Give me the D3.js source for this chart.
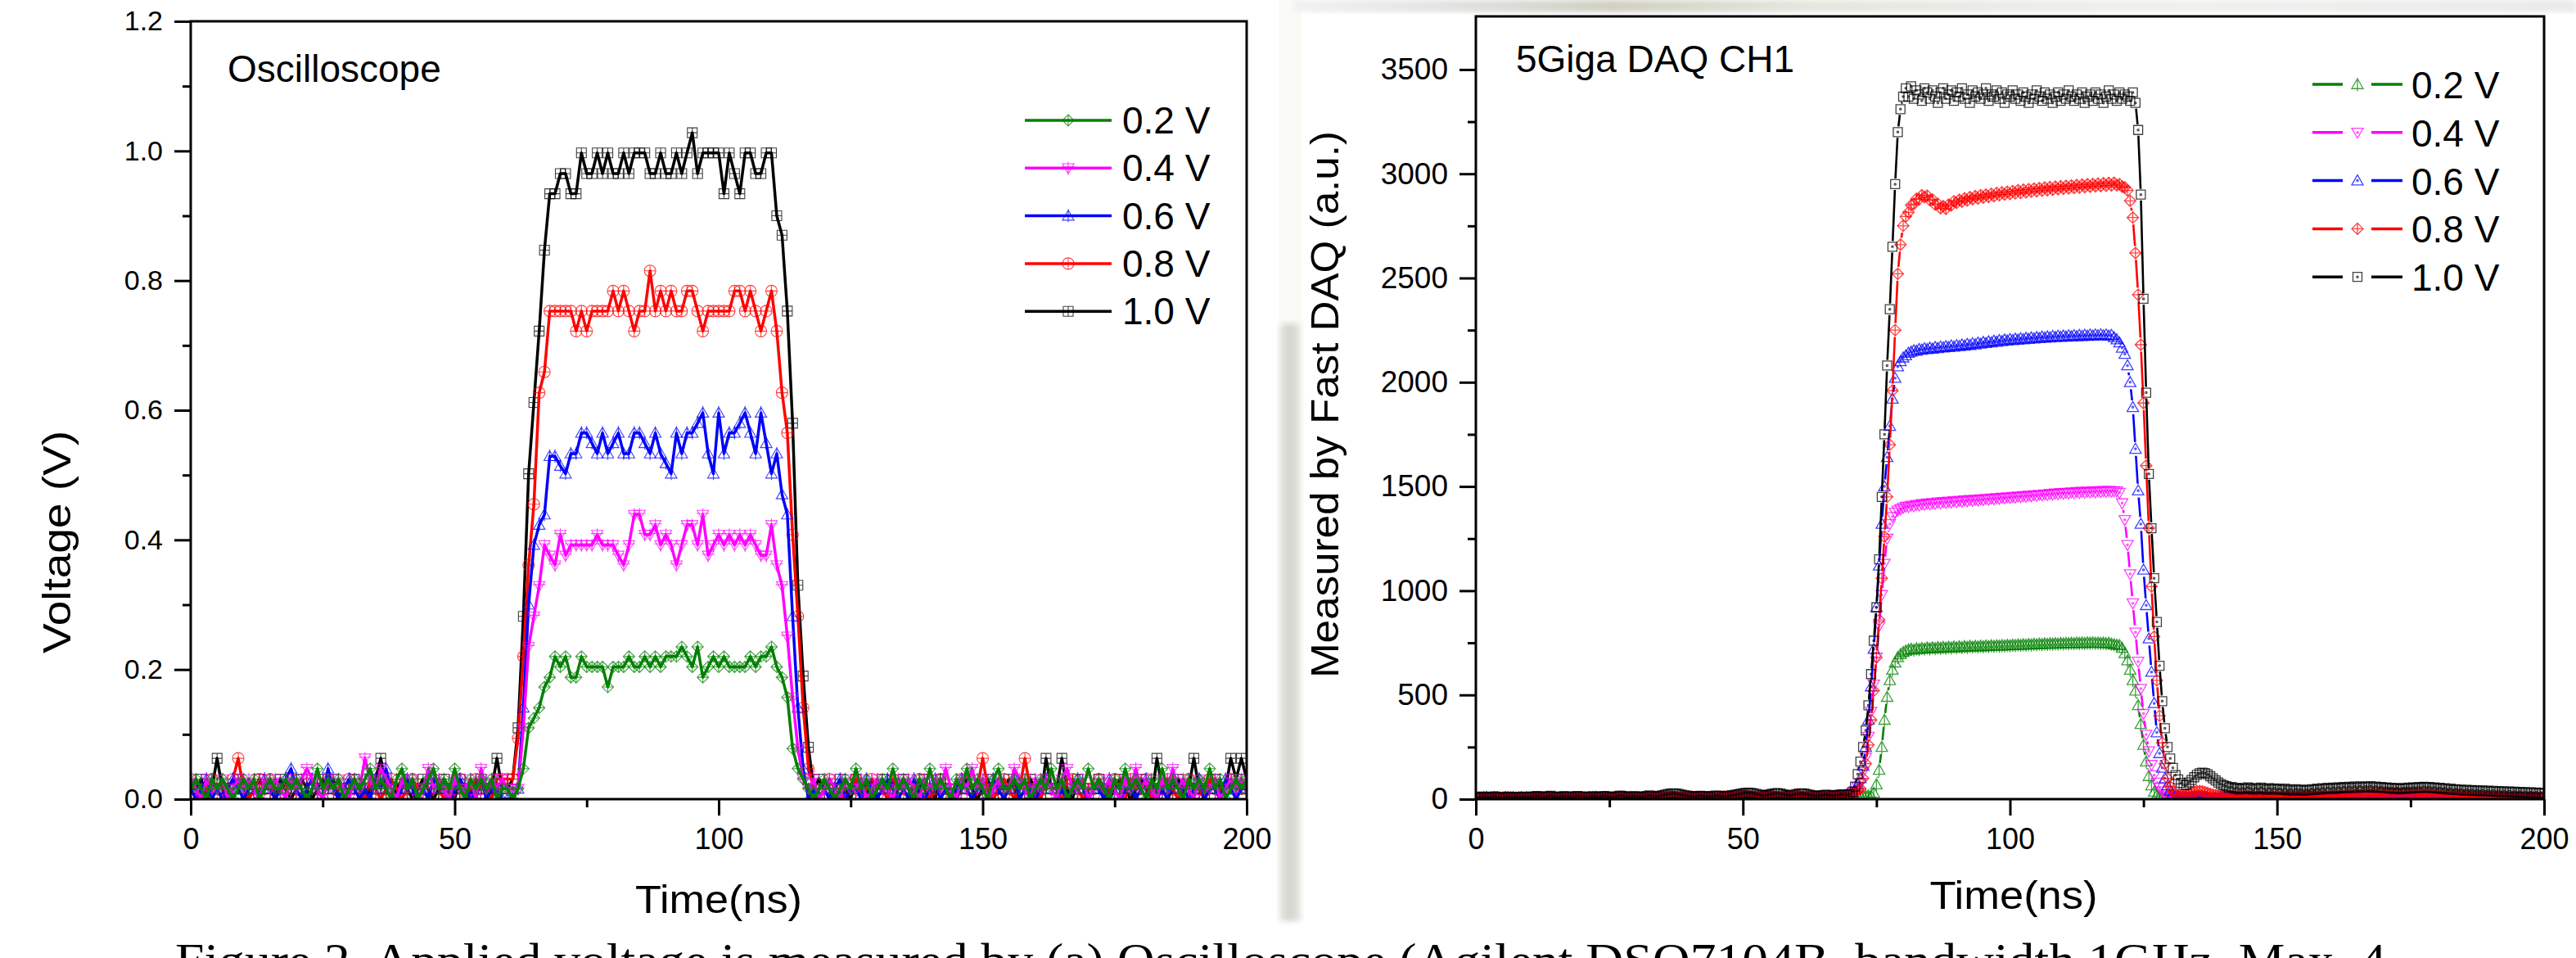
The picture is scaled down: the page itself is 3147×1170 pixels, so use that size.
<!DOCTYPE html>
<html lang="en">
  <head>
    <meta charset="utf-8" />
    <script src="https://d3js.org/d3.v7.min.js"></script>
    <style>
      body { margin: 0; background: #fff; }
      svg text { font-family: 'Liberation Sans', Arial, sans-serif; }
    </style>
  </head>
  <body>
    <svg id="fig" width="3147" height="1170"></svg>
    <script>
      // ---- data ----
      const legendLabels = ['0.2 V', '0.4 V', '0.6 V', '0.8 V', '1.0 V'];
      const timeTicks = [0, 50, 100, 150, 200];
      const timeMinor = [25, 75, 125, 175];
      const voltTicks = [0, 0.2, 0.4, 0.6, 0.8, 1.0, 1.2];
      const voltMinor = [0.1, 0.3, 0.5, 0.7, 0.9, 1.1];
      const daqTicks = [0, 500, 1000, 1500, 2000, 2500, 3000, 3500];
      const daqMinor = [250, 750, 1250, 1750, 2250, 2750, 3250];

      const oscStep = 1;   // ns between oscilloscope samples
      const daqStep = 0.5; // ns between DAQ samples

      // oscilloscope traces (mV), t = 0..200 ns
      const osc02 = [
        16,31,16,0,31,16,31,16,0,16,31,16,31,0,16,31,16,16,31,16,
        31,16,0,16,47,16,31,16,31,0,16,31,16,31,47,16,31,16,0,31,
        47,16,31,0,16,31,47,16,31,16,47,16,0,31,16,31,16,31,0,16,
        16,0,16,47,110,125,141,173,188,220,204,220,188,188,220,204,204,204,204,173,
        204,204,204,220,204,204,220,204,220,204,220,220,220,235,220,204,235,188,204,220,
        204,220,204,204,204,204,220,204,220,220,235,204,188,157,78,47,31,16,0,16,
        31,16,0,16,31,16,47,16,31,0,16,31,16,47,16,31,16,0,31,16,
        47,16,31,16,0,31,16,47,16,31,16,0,31,47,16,16,31,16,31,0,
        16,31,16,47,16,31,0,16,31,16,47,16,31,16,0,31,16,47,16,31,
        16,0,31,16,47,16,31,16,0,31,16,31,16,47,16,31,0,16,31,16,
        31
      ];
      const osc04 = [
        31,16,0,31,16,16,31,0,16,31,16,31,16,0,31,16,31,16,0,31,
        16,31,47,31,16,0,31,16,31,16,0,31,16,63,31,16,47,31,16,0,
        31,16,31,0,16,47,16,31,16,0,31,16,16,31,0,47,16,31,16,31,
        16,16,16,110,235,282,329,392,376,361,408,376,392,392,392,392,392,408,392,392,
        392,376,361,392,439,439,408,408,423,392,408,392,361,392,423,423,392,439,376,392,
        408,392,408,392,408,392,408,392,376,376,423,361,329,251,157,78,31,16,31,0,
        16,31,16,0,31,16,16,31,0,16,31,16,16,0,31,16,31,16,0,31,
        16,31,16,47,16,0,31,16,47,16,31,0,16,31,16,16,47,31,16,0,
        31,16,31,16,0,31,47,16,16,31,0,16,31,16,31,16,0,31,16,47,
        16,31,16,0,31,16,47,16,31,16,0,31,16,16,31,0,16,31,16,31,
        16
      ];
      const osc06 = [
        16,0,16,31,0,16,0,16,31,16,0,16,16,0,31,16,0,16,31,47,
        16,0,16,31,16,0,47,16,0,16,31,16,0,16,0,31,16,47,16,0,
        16,31,16,0,16,0,31,16,16,0,16,31,16,0,16,31,0,16,16,0,
        0,0,16,141,300,392,423,439,529,529,514,502,533,533,565,565,549,533,565,533,
        549,565,533,533,565,565,549,533,565,533,518,502,565,533,565,565,580,596,533,502,
        596,533,565,565,580,596,565,533,596,549,502,533,470,439,282,141,47,0,16,0,
        16,0,16,31,0,16,16,0,31,16,0,16,31,16,0,16,0,31,16,0,
        16,31,0,16,0,16,31,16,0,16,16,0,31,16,0,16,31,0,16,16,
        0,16,31,16,0,16,0,16,31,16,0,16,16,0,31,16,0,16,16,0,
        16,31,16,0,16,0,31,16,16,0,16,31,0,16,16,0,31,16,0,16,
        16
      ];
      const osc08 = [
        31,16,0,16,31,16,0,16,31,63,16,0,16,31,16,31,0,16,16,31,
        16,0,16,31,16,0,31,16,0,16,31,16,16,0,31,16,0,16,31,16,
        0,16,31,16,16,0,31,16,0,16,16,31,0,16,31,16,16,0,31,31,
        31,31,94,220,361,455,627,659,753,753,753,753,753,722,753,722,753,753,753,753,
        784,753,784,753,722,753,753,815,753,784,753,784,753,753,784,784,753,722,753,753,
        753,753,753,784,784,753,784,753,722,753,784,722,627,565,408,282,141,47,16,0,
        16,31,16,0,16,16,31,0,16,31,16,16,0,31,16,16,0,16,31,16,
        0,16,31,16,0,16,31,16,0,16,63,16,0,16,31,16,0,16,63,16,
        16,0,31,16,16,0,31,31,16,0,16,16,31,0,16,31,16,0,31,16,
        16,31,0,16,16,31,16,0,16,31,16,16,0,31,16,0,16,31,16,16,
        16
      ];
      const osc10 = [
        16,16,31,0,16,63,16,0,16,31,16,0,16,31,16,16,0,31,16,0,
        16,31,16,0,16,31,16,31,0,16,16,31,16,0,16,31,63,16,0,16,
        31,16,0,16,31,16,0,16,31,16,0,31,16,16,0,31,16,16,63,16,
        16,31,110,282,502,612,722,847,934,934,965,965,934,934,997,965,965,997,965,997,
        965,965,997,965,997,997,997,965,965,997,965,965,997,965,997,1028,965,997,997,997,
        997,934,997,965,934,997,997,965,965,997,997,900,870,753,580,330,190,80,16,31,
        16,0,16,31,16,0,31,16,16,0,16,31,16,0,16,31,16,0,16,31,
        16,0,31,16,16,0,16,31,16,0,16,31,0,16,16,31,16,0,16,31,
        16,0,63,16,16,63,16,0,31,16,0,16,31,16,0,16,31,16,0,16,
        31,16,0,63,16,0,16,31,16,16,63,16,0,16,31,16,16,63,31,63,
        31
      ];

      // fast DAQ traces (a.u.), t = 0..200 ns
      const daq02 = [
        5,3,6,4,7,5,3,6,8,5,4,6,3,5,7,4,6,5,3,6,
        4,7,5,3,6,8,5,4,6,3,5,7,4,6,8,5,3,6,4,5,
        7,4,6,3,5,8,6,4,7,5,3,6,8,5,4,6,7,5,3,6,
        5,7,4,6,8,5,3,6,8,7,5,8,10,12,10,8,7,9,6,5,
        7,9,6,8,5,7,6,8,9,7,6,8,9,11,10,8,9,11,12,14,
        15,16,14,12,10,9,8,10,11,13,14,12,10,9,8,10,11,9,8,10,
        11,10,9,8,10,11,10,9,8,9,10,11,10,9,11,12,11,10,12,13,
        12,14,13,15,14,16,15,17,15,30,70,140,250,380,490,570,620,655,680,695,
        705,712,717,720,716,722,719,724,721,726,722,727,723,728,724,729,725,730,726,731,
        727,732,728,733,729,734,730,734,731,735,732,736,733,737,734,737,735,738,736,739,
        737,740,738,741,739,742,740,743,741,744,742,745,743,746,744,746,745,747,745,748,
        746,748,747,749,747,750,748,750,748,751,749,751,749,750,748,750,747,749,745,742,
        740,738,725,700,665,620,570,520,450,360,260,180,110,65,35,18,10,8,7,6,
        5,6,4,7,5,6,8,7,6,5,7,6,5,4,6,5,7,5,4,6,
        5,7,4,6,3,5,7,4,6,5,3,6,8,5,4,6,7,5,3,6,
        4,6,5,3,7,5,4,6,8,5,3,6,4,7,5,3,6,5,4,7,
        5,8,6,4,7,5,8,6,9,7,5,8,6,9,7,10,8,6,9,7,
        8,6,9,7,5,8,6,9,7,5,8,6,4,7,5,8,6,4,7,5,
        6,4,7,5,3,6,4,7,5,3,6,4,5,7,4,6,3,5,4,6,
        4,3,5,4,6,3,5,4,3,5,4,6,3,4,5,3,4,5,3,4,
        4
      ];
      const daq04 = [
        4,6,3,5,7,4,6,5,3,6,8,5,4,6,7,5,3,6,5,4,
        6,8,5,4,7,6,5,3,6,8,5,7,4,6,5,3,6,7,5,4,
        7,5,6,4,8,6,5,7,4,6,5,8,6,4,7,5,3,6,8,5,
        6,4,7,5,3,6,8,9,7,6,8,10,12,11,9,8,6,7,5,6,
        8,6,5,7,9,7,6,8,6,5,8,6,7,9,8,6,8,10,12,13,
        14,15,13,11,10,8,9,11,12,13,12,10,9,8,10,11,9,8,10,12,
        11,10,9,8,10,11,10,9,8,10,11,12,13,12,14,15,14,16,18,19,
        20,28,40,58,75,130,200,300,420,550,680,830,980,1130,1250,1320,1355,1375,1385,1392,
        1398,1404,1402,1409,1406,1412,1410,1416,1413,1419,1416,1421,1418,1424,1420,1426,1422,1428,1424,1430,
        1426,1432,1428,1434,1430,1436,1432,1437,1434,1439,1436,1441,1438,1443,1440,1445,1442,1447,1444,1449,
        1446,1451,1448,1453,1450,1455,1452,1457,1454,1459,1456,1461,1458,1463,1460,1465,1462,1467,1464,1469,
        1466,1470,1467,1472,1469,1474,1470,1475,1471,1476,1472,1477,1473,1478,1474,1479,1475,1479,1476,1478,
        1477,1470,1420,1340,1220,1080,940,800,660,530,410,310,230,165,115,80,55,38,25,15,
        10,7,6,8,7,9,10,11,10,9,8,7,8,6,7,5,6,8,7,5,
        6,4,7,5,8,6,3,5,7,4,6,8,5,7,4,6,5,3,6,7,
        5,3,6,8,5,4,7,6,4,5,7,3,6,8,6,5,7,4,6,5,
        7,5,8,6,4,7,9,6,8,5,7,9,6,8,10,7,9,6,8,7,
        9,6,8,5,7,9,6,8,7,5,8,6,7,9,6,5,7,8,6,4,
        5,7,4,6,3,5,7,4,6,5,3,6,4,5,7,4,3,6,5,4,
        3,5,4,6,3,4,5,3,6,4,5,3,4,6,3,5,4,3,5,4,
        3
      ];
      const daq06 = [
        5,7,4,6,8,5,3,6,7,5,4,6,8,6,4,5,7,5,3,6,
        7,5,4,6,8,6,5,7,4,6,8,5,3,6,7,5,4,7,6,5,
        4,6,8,5,7,4,6,5,7,8,6,4,5,7,6,4,8,6,5,7,
        6,4,7,5,8,6,4,7,9,8,6,5,8,10,9,7,6,8,5,7,
        6,8,5,7,9,6,5,8,7,6,9,7,5,8,10,8,7,9,11,12,
        13,14,12,10,9,8,7,9,10,12,13,11,9,8,7,9,10,8,7,9,
        10,11,10,9,8,7,9,10,9,8,7,9,10,11,12,13,12,14,16,18,
        20,30,45,70,100,160,250,380,540,720,920,1120,1320,1500,1640,1790,1920,2020,2075,2100,
        2118,2128,2140,2145,2152,2150,2158,2155,2162,2158,2165,2160,2168,2163,2170,2166,2172,2168,2175,2170,
        2177,2173,2180,2175,2183,2178,2186,2181,2189,2184,2192,2187,2195,2190,2198,2193,2201,2196,2204,2199,
        2206,2201,2208,2203,2210,2205,2212,2207,2214,2209,2216,2211,2218,2213,2219,2214,2221,2216,2222,2217,
        2223,2218,2224,2219,2225,2220,2226,2221,2227,2222,2228,2223,2228,2224,2229,2224,2228,2223,2226,2215,
        2205,2190,2165,2135,2080,2000,1880,1680,1480,1320,1100,930,770,610,460,320,220,150,100,65,
        40,25,15,10,8,7,9,11,13,14,13,11,9,8,7,8,9,7,6,8,
        7,5,8,6,4,7,5,8,6,4,7,5,3,6,8,5,4,7,5,6,
        4,7,5,3,6,8,5,4,6,7,5,3,6,8,6,4,5,7,5,4,
        6,8,5,7,9,6,5,8,7,6,9,7,5,8,10,8,7,9,8,6,
        7,9,6,8,10,7,6,9,8,7,9,6,8,7,5,7,6,8,6,5,
        6,4,7,5,3,6,8,5,4,6,7,5,3,6,5,4,6,5,3,5,
        4,6,3,5,7,4,3,5,6,4,3,5,4,3,5,4,6,3,4,5,
        4
      ];
      const daq08 = [
        6,8,5,9,7,4,8,10,6,5,7,9,6,4,8,7,5,9,6,8,
        7,5,8,10,6,4,7,9,8,6,5,8,10,7,5,6,9,7,5,8,
        6,9,7,4,8,10,6,5,7,9,8,6,4,7,9,6,5,8,10,7,
        5,8,6,9,7,5,8,10,9,7,6,9,11,13,12,10,8,7,9,6,
        8,10,7,5,9,8,6,9,11,8,6,7,10,12,11,9,8,10,13,15,
        16,17,15,13,11,9,8,10,12,14,15,13,11,9,8,10,12,9,8,11,
        13,14,12,10,9,8,10,12,11,9,8,10,12,11,9,10,13,12,10,14,
        18,24,32,42,50,100,170,260,380,520,680,860,1060,1260,1450,1700,1960,2250,2520,2660,
        2750,2795,2815,2850,2855,2880,2878,2897,2888,2895,2874,2876,2852,2856,2835,2845,2832,2852,2848,2868,
        2860,2875,2866,2882,2872,2888,2878,2893,2881,2897,2886,2900,2889,2904,2893,2908,2897,2911,2900,2914,
        2903,2917,2906,2921,2908,2924,2911,2926,2914,2929,2916,2931,2919,2934,2921,2936,2923,2938,2926,2940,
        2928,2942,2930,2944,2932,2946,2934,2948,2936,2950,2938,2951,2940,2953,2941,2955,2943,2956,2944,2957,
        2945,2950,2938,2935,2920,2870,2790,2620,2420,2180,1900,1600,1300,1020,780,570,400,270,170,100,
        60,38,24,18,16,18,22,27,32,36,38,39,37,34,30,26,22,19,17,15,
        14,16,12,15,11,14,10,13,12,15,11,13,10,14,12,9,13,11,14,10,
        12,9,13,10,14,11,8,12,10,13,9,12,14,11,15,12,16,13,15,12,
        14,17,13,16,19,15,18,21,17,20,23,19,22,25,21,24,26,22,25,27,
        23,26,28,24,27,29,25,28,30,26,28,25,27,24,26,22,25,21,23,20,
        22,18,21,17,19,16,18,14,17,13,15,12,14,11,13,10,12,9,11,8,
        10,7,9,6,8,5,7,4,6,5,7,4,6,3,5,4,6,3,5,4,
        3
      ];
      const daq10 = [
        8,10,6,12,9,7,11,13,9,8,6,10,12,9,7,11,9,8,12,10,
        9,10,13,15,11,9,11,14,16,12,10,8,11,14,13,11,9,12,15,13,
        11,10,8,12,14,11,9,12,15,13,10,8,11,14,17,15,12,10,11,14,
        13,11,9,12,15,18,14,12,13,16,19,22,25,27,28,27,25,22,19,17,
        15,13,11,14,16,15,13,11,12,15,17,16,14,12,14,16,19,21,23,26,
        28,30,31,30,28,25,22,19,17,20,23,26,28,29,27,24,20,17,18,21,
        24,27,28,27,24,21,18,16,15,17,19,21,20,18,17,19,21,23,22,20,
        24,35,60,120,180,250,330,450,600,760,920,1150,1450,1750,2080,2350,2650,2950,3200,3310,
        3370,3410,3370,3420,3360,3400,3380,3350,3410,3390,3360,3400,3370,3340,3390,3410,3360,3380,3400,3350,
        3390,3370,3410,3360,3380,3340,3400,3370,3390,3360,3380,3410,3350,3380,3370,3400,3360,3390,3340,3380,
        3370,3400,3360,3380,3350,3390,3370,3340,3380,3360,3400,3370,3350,3390,3360,3380,3340,3370,3390,3350,
        3380,3360,3400,3370,3350,3380,3360,3390,3340,3370,3380,3350,3390,3360,3380,3340,3370,3400,3360,3380,
        3350,3390,3360,3380,3370,3350,3390,3340,3210,2900,2400,1950,1560,1300,1060,850,640,470,340,250,
        195,150,115,95,78,68,68,80,92,105,116,124,127,125,119,110,100,90,80,72,
        66,62,55,58,50,54,47,52,49,56,51,46,53,48,55,50,45,52,47,51,
        46,49,44,50,42,47,41,48,43,46,40,45,42,48,44,50,46,52,48,54,
        49,55,50,56,52,58,53,59,54,60,55,61,56,60,57,62,56,60,55,58,
        53,56,51,54,49,53,48,52,50,55,51,56,53,58,54,59,55,58,53,56,
        51,54,49,52,46,50,44,48,43,46,41,45,40,44,39,43,38,42,37,41,
        36,40,35,39,34,38,33,37,32,36,31,35,30,34,29,33,28,32,27,31,
        26
      ];

      // ---- marker shapes ----
      const dotD = 'M-1.1,0a1.1,1.1 0 1,0 2.2,0a1.1,1.1 0 1,0 -2.2,0';
      const symbolPath = {
        squarePlus: s => `M${-s},${-s}H${s}V${s}H${-s}ZM0,${-s}V${s}M${-s},0H${s}`,
        circlePlus: s => `M${-s},0A${s},${s} 0 1,0 ${s},0A${s},${s} 0 1,0 ${-s},0ZM0,${-s}V${s}M${-s},0H${s}`,
        triUpPlus: s => `M0,${-s}L${s},${0.75 * s}H${-s}ZM0,${-1.2 * s}V${1.1 * s}M${-1.1 * s},${0.75 * s}H${1.1 * s}`,
        triDownPlus: s => `M${-s},${-0.75 * s}H${s}L0,${s}ZM0,${-1.1 * s}V${1.2 * s}M${-1.1 * s},${-0.2 * s}H${1.1 * s}`,
        diamondPlus: s => `M0,${-s}L${s},0L0,${s}L${-s},0ZM0,${-s}V${s}M${-s},0H${s}`,
        triUpStem: s => `M0,${-s}L${s},${0.75 * s}H${-s}ZM0,${-1.1 * s}V${1.2 * s}`,
        triUpDot: s => `M0,${-s}L${s},${0.75 * s}H${-s}Z` + dotD,
        triDownDot: s => `M${-s},${-0.75 * s}H${s}L0,${s}Z` + dotD,
        squareDot: s => `M${-s},${-s}H${s}V${s}H${-s}Z` + dotD,
      };

      const oscSeries = [
        { values: osc02, color: '#008000', sym: 'diamondPlus', s: 7 },
        { values: osc04, color: '#ff00ff', sym: 'triDownPlus', s: 7 },
        { values: osc06, color: '#0000ff', sym: 'triUpPlus', s: 7 },
        { values: osc08, color: '#ff0000', sym: 'circlePlus', s: 7 },
        { values: osc10, color: '#000000', sym: 'squarePlus', s: 6 },
      ];
      const daqSeries = [
        { values: daq02, color: '#008000', sym: 'triUpStem', s: 7 },
        { values: daq04, color: '#ff00ff', sym: 'triDownDot', s: 7 },
        { values: daq06, color: '#0000ff', sym: 'triUpDot', s: 7 },
        { values: daq08, color: '#ff0000', sym: 'diamondPlus', s: 7 },
        { values: daq10, color: '#000000', sym: 'squareDot', s: 5.5 },
      ];

      const svg = d3.select('#fig');
      const defs = svg.append('defs');

      // faint marks left by the scanned page
      const strip = defs.append('linearGradient').attr('id', 'strip');
      strip.append('stop').attr('offset', 0).attr('stop-color', '#ecece6');
      strip.append('stop').attr('offset', 0.5).attr('stop-color', '#d2d2ca');
      strip.append('stop').attr('offset', 1).attr('stop-color', '#ecece8');
      const band = defs.append('linearGradient').attr('id', 'band');
      [[0, '#f2f2f2'], [0.12, '#e2e2e2'], [0.25, '#cfcfc2'], [0.4, '#e6e6de'], [0.7, '#f0f0ee'], [1, '#e9e9e9']]
        .forEach(([o, c]) => band.append('stop').attr('offset', o).attr('stop-color', c));
      defs.append('filter').attr('id', 'soft').append('feGaussianBlur').attr('stdDeviation', 3);
      svg.append('rect').attr('x', 1562).attr('y', 0).attr('width', 28).attr('height', 395).attr('fill', '#fafaf6');
      svg.append('rect').attr('x', 1562).attr('y', 395).attr('width', 28).attr('height', 730)
        .attr('fill', 'url(#strip)').attr('filter', 'url(#soft)');
      svg.append('rect').attr('x', 1580).attr('y', 0).attr('width', 1567).attr('height', 15)
        .attr('fill', 'url(#band)').attr('filter', 'url(#soft)');

      function panel(o) {
        const x = d3.scaleLinear().domain([0, 200]).range([o.left, o.right]);
        const y = d3.scaleLinear().domain(o.yDomain).range([o.bottom, o.top]);
        const g = svg.append('g');
        defs.append('clipPath').attr('id', o.id).append('rect')
          .attr('x', o.left).attr('y', o.top)
          .attr('width', o.right - o.left).attr('height', o.bottom - o.top);
        const plot = g.append('g').attr('clip-path', `url(#${o.id})`);

        const styleAxis = (sel, fs) => {
          sel.select('.domain').remove();
          sel.selectAll('line').attr('stroke-width', 3);
          sel.attr('font-size', fs).attr('font-family', null);
        };
        g.append('g').attr('transform', `translate(0,${o.bottom})`)
          .call(d3.axisBottom(x).tickValues(timeTicks).tickSize(20).tickPadding(15))
          .call(s => styleAxis(s, 36));
        g.append('g').attr('transform', `translate(0,${o.bottom})`)
          .call(d3.axisBottom(x).tickValues(timeMinor).tickSize(10).tickFormat(''))
          .call(s => styleAxis(s, 36));
        g.append('g').attr('transform', `translate(${o.left},0)`)
          .call(d3.axisLeft(y).tickValues(o.yTicks).tickSize(20).tickPadding(14).tickFormat(o.yFormat))
          .call(s => styleAxis(s, o.yFont));
        g.append('g').attr('transform', `translate(${o.left},0)`)
          .call(d3.axisLeft(y).tickValues(o.yMinor).tickSize(10).tickFormat(''))
          .call(s => styleAxis(s, o.yFont));

        return { x, y, g, plot, o };
      }

      function finishFrame(p) {
        const o = p.o;
        p.g.append('rect')
          .attr('x', o.left).attr('y', o.top)
          .attr('width', o.right - o.left).attr('height', o.bottom - o.top)
          .attr('fill', 'none').attr('stroke', '#000').attr('stroke-width', 3);
      }

      // line broken around every symbol, like Origin's "gap to symbol"
      function gappedPath(points, gap) {
        let d = '';
        for (let k = 1; k < points.length; k++) {
          const [ax, ay] = points[k - 1], [bx, by] = points[k];
          const dx = bx - ax, dy = by - ay, len = Math.hypot(dx, dy);
          if (len <= 2 * gap) continue;
          const ux = (dx / len) * gap, uy = (dy / len) * gap;
          d += `M${ax + ux},${ay + uy}L${bx - ux},${by - uy}`;
        }
        return d;
      }

      function drawMarkers(layer, pts, st, width) {
        layer.append('g')
          .attr('fill', 'none').attr('stroke', st.color)
          .attr('stroke-width', width).attr('stroke-opacity', 0.75)
          .selectAll('path').data(pts).join('path')
          .attr('transform', d => `translate(${d[0]},${d[1]})`)
          .attr('d', symbolPath[st.sym](st.s));
      }

      // ---------- (a) oscilloscope ----------
      const pa = panel({
        id: 'clipA', left: 233, right: 1523, top: 26, bottom: 976,
        yDomain: [0, 1.2], yTicks: voltTicks, yMinor: voltMinor,
        yFormat: d3.format('.1f'), yFont: 34,
      });
      const oscLine = d3.line().x((v, i) => pa.x(i * oscStep)).y(v => pa.y(v / 1000));
      oscSeries.slice().reverse().forEach(st => {
        drawMarkers(pa.plot, st.values.map((v, i) => [pa.x(i * oscStep), pa.y(v / 1000)]), st, 1.1);
        pa.plot.append('path').attr('d', oscLine(st.values))
          .attr('fill', 'none').attr('stroke', st.color)
          .attr('stroke-width', 3.5).attr('stroke-linejoin', 'round');
      });
      finishFrame(pa);

      pa.g.append('text').attr('x', 278).attr('y', 100).attr('font-size', 46).text('Oscilloscope');
      oscSeries.forEach((st, k) => {
        const ly = 147 + k * 58.3;
        pa.g.append('line').attr('x1', 1252).attr('x2', 1358).attr('y1', ly).attr('y2', ly)
          .attr('stroke', st.color).attr('stroke-width', 3.5);
        drawMarkers(pa.g, [[1305, ly]], st, 1.1);
        pa.g.append('text').attr('x', 1371).attr('y', ly + 16).attr('font-size', 46).text(legendLabels[k]);
      });
      pa.g.append('text').attr('x', 878).attr('y', 1115).attr('font-size', 48)
        .attr('text-anchor', 'middle').attr('textLength', 204).attr('lengthAdjust', 'spacingAndGlyphs')
        .text('Time(ns)');
      pa.g.append('text').attr('transform', 'translate(86,662) rotate(-90)').attr('font-size', 48)
        .attr('text-anchor', 'middle').attr('textLength', 272).attr('lengthAdjust', 'spacingAndGlyphs')
        .text('Voltage (V)');

      // ---------- (b) 5 Giga DAQ ----------
      const pb = panel({
        id: 'clipB', left: 1803, right: 3108, top: 20, bottom: 976,
        yDomain: [0, 3755], yTicks: daqTicks, yMinor: daqMinor,
        yFormat: d3.format('d'), yFont: 37,
      });
      daqSeries.forEach(st => {
        const pts = st.values.map((v, i) => [pb.x(i * daqStep), pb.y(v)]);
        pb.plot.append('path').attr('d', gappedPath(pts, st.s + 1.5))
          .attr('fill', 'none').attr('stroke', st.color).attr('stroke-width', 2.6);
        drawMarkers(pb.plot, pts, st, 1.3);
      });
      finishFrame(pb);

      pb.g.append('text').attr('x', 1852).attr('y', 88).attr('font-size', 46).text('5Giga DAQ CH1');
      daqSeries.forEach((st, k) => {
        const ly = 103 + k * 58.8;
        [[2825, 2862], [2897, 2935]].forEach(([a, b]) =>
          pb.g.append('line').attr('x1', a).attr('x2', b).attr('y1', ly).attr('y2', ly)
            .attr('stroke', st.color).attr('stroke-width', 3.5));
        drawMarkers(pb.g, [[2880, ly]], st, 1.3);
        pb.g.append('text').attr('x', 2946).attr('y', ly + 17).attr('font-size', 46).text(legendLabels[k]);
      });
      pb.g.append('text').attr('x', 2460).attr('y', 1110).attr('font-size', 48)
        .attr('text-anchor', 'middle').attr('textLength', 205).attr('lengthAdjust', 'spacingAndGlyphs')
        .text('Time(ns)');
      pb.g.append('text').attr('transform', 'translate(1635,494) rotate(-90)').attr('font-size', 48)
        .attr('text-anchor', 'middle').attr('textLength', 668).attr('lengthAdjust', 'spacingAndGlyphs')
        .text('Measured by Fast DAQ (a.u.)');

      // caption, cut by the bottom edge of the scan
      svg.append('text').attr('x', 214).attr('y', 1193)
        .style('font-family', "'Liberation Serif', 'Times New Roman', serif")
        .attr('font-size', 60).attr('textLength', 2701).attr('lengthAdjust', 'spacingAndGlyphs')
        .text('Figure 2. Applied voltage is measured by (a) Oscilloscope (Agilent DSO7104B, bandwidth 1GHz, Max. 4');

      // length check while building
      const bad = [['osc', [osc02, osc04, osc06, osc08, osc10], 201], ['daq', [daq02, daq04, daq06, daq08, daq10], 401]]
        .flatMap(([n, arrs, len]) => arrs.map((a, i) => a.length !== len ? `${n}${i}:${a.length}` : null)).filter(Boolean);
      if (bad.length) svg.append('text').attr('x', 300).attr('y', 600).attr('font-size', 40).attr('fill', 'orange').text(bad.join(' '));
    </script>
  </body>
</html>
